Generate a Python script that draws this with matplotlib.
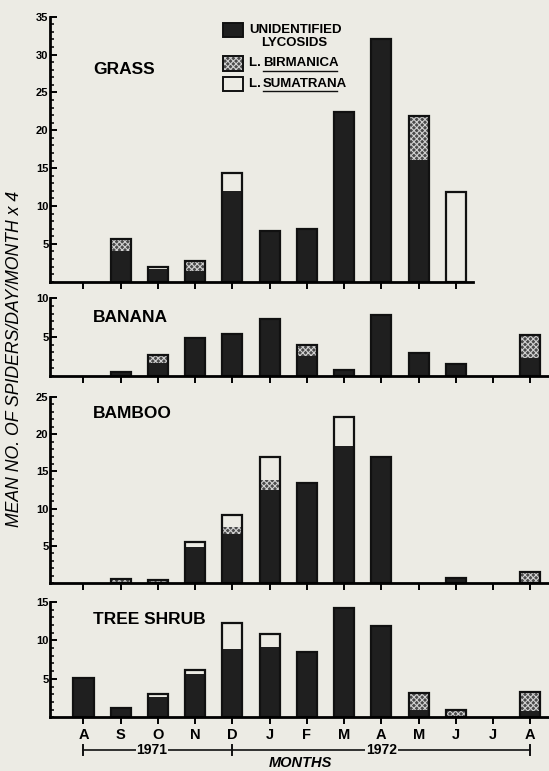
# Lycosid spiders per habitat, monthly, Aug 1971 - Aug 1972
import numpy as np
import matplotlib.pyplot as plt
from matplotlib.ticker import MultipleLocator

plt.rcParams['font.family'] = ['Liberation Sans', 'DejaVu Sans']
plt.rcParams['hatch.linewidth'] = 0.8

BG = '#ecebe4'
DARK = '#1f1f1f'
HATCH_FC = '#4a4a4a'

months = ["A", "S", "O", "N", "D", "J", "F", "M", "A", "M", "J", "J", "A"]

# values (mean no. of spiders/day/month x 4)
grass_unid = [0, 4.0, 1.7, 1.4, 12.0, 6.7, 7.0, 22.4, 32.0, 16.1, 0, 0, 0]
grass_birm = [0, 1.6, 0, 1.4, 0, 0, 0, 0, 0, 5.8, 0, 0, 0]
grass_suma = [0, 0, 0.3, 0, 2.4, 0, 0, 0, 0, 0, 11.9, 0, 0]

banana_unid = [0, 0.5, 1.6, 4.9, 5.4, 7.3, 2.5, 0.75, 7.75, 2.9, 1.55, 0, 2.25]
banana_birm = [0, 0, 1.1, 0, 0, 0, 1.5, 0, 0, 0, 0, 0, 3.0]
banana_suma = [0, 0, 0, 0, 0, 0, 0, 0, 0, 0, 0, 0, 0]

bamboo_unid = [0, 0, 0, 4.8, 6.6, 12.5, 13.4, 18.4, 16.9, 0, 0.75, 0, 0]
bamboo_birm = [0, 0.6, 0.4, 0, 1.0, 1.3, 0, 0, 0, 0, 0, 0, 1.5]
bamboo_suma = [0, 0, 0, 0.7, 1.5, 3.1, 0, 3.9, 0, 0, 0, 0, 0]

tree_unid = [5.1, 1.15, 2.6, 5.6, 8.9, 9.1, 8.5, 14.2, 11.9, 0.9, 0, 0, 0.8]
tree_birm = [0, 0, 0, 0, 0, 0, 0, 0, 0, 2.2, 0.9, 0, 2.5]
tree_suma = [0, 0, 0.4, 0.5, 3.4, 1.7, 0, 0, 0, 0, 0, 0, 0]

panels = [
    ("GRASS", 35, grass_unid, grass_birm, grass_suma, [0.091, 0.6346, 0.909, 0.3437], 11),
    ("BANANA", 10, banana_unid, banana_birm, banana_suma, [0.091, 0.5127, 0.909, 0.1008], 13),
    ("BAMBOO", 25, bamboo_unid, bamboo_birm, bamboo_suma, [0.091, 0.2435, 0.909, 0.2416], 13),
    ("TREE SHRUB", 15, tree_unid, tree_birm, tree_suma, [0.091, 0.0697, 0.909, 0.1495], 13),
]

fig = plt.figure(figsize=(5.49, 7.71), dpi=100, facecolor=BG)
x = np.arange(len(months))
w = 0.54

axes = []
for name, ymax, unid, birm, suma, rect, nt in panels:
    ax = fig.add_axes(rect)
    ax.set_facecolor(BG)
    unid = np.array(unid)
    birm = np.array(birm)
    suma = np.array(suma)
    total = unid + birm + suma

    ax.bar(x, unid, w, color=DARK, linewidth=0)
    ax.bar(x, birm, w, bottom=unid, facecolor=HATCH_FC, edgecolor='#d0d0d0',
           hatch='xxxxxx', linewidth=0)
    ax.bar(x, suma, w, bottom=unid + birm, facecolor=BG, linewidth=0)
    ok = total > 0
    ax.bar(x[ok], total[ok], w, fill=False, edgecolor='#111111', linewidth=1.6)

    ax.set_xlim(-0.9, 12.5)
    ax.set_ylim(0, ymax)
    for s in ['top', 'right']:
        ax.spines[s].set_visible(False)
    ax.spines['left'].set_linewidth(2)
    ax.spines['bottom'].set_linewidth(2)
    if nt < 13:
        ax.spines['bottom'].set_bounds(-0.9, 10.45)

    ax.set_yticks(np.arange(5, ymax + 1, 5))
    ax.yaxis.set_minor_locator(MultipleLocator(1))
    ax.tick_params(axis='y', which='major', direction='in', length=5, width=1.4,
                   labelsize=8, pad=1)
    ax.tick_params(axis='y', which='minor', direction='in', length=3, width=1.1)
    for lab in ax.get_yticklabels():
        lab.set_fontweight('bold')

    ax.set_xticks(x[:nt])
    ax.tick_params(axis='x', direction='out', length=5, width=1.4)
    ax.set_xticklabels([])
    axes.append(ax)

# panel names (positioned in figure pixels from the top)
for (name, *_), ypix in zip(panels, [69, 317, 414, 620]):
    fig.text(93 / 549, 1 - ypix / 771, name, fontsize=12.5, fontweight='bold',
             va='center', ha='left')

# legend in the grass panel
legend_rows = [
    (DARK, None, 30, "UNIDENTIFIED", None),
    (HATCH_FC, 'xxxxxx', 63.5, "L. ", "BIRMANICA"),
    (BG, None, 84, "L. ", "SUMATRANA"),
]
for fc, hatch, ypix, t1, t2 in legend_rows:
    y0 = 1 - (ypix + 7) / 771
    if hatch:
        fig.patches.append(plt.Rectangle((223 / 549, y0), 20 / 549, 14 / 771,
                                         transform=fig.transFigure, facecolor=fc,
                                         edgecolor='#d0d0d0', linewidth=0,
                                         hatch=hatch))
        fc = 'none'
    fig.patches.append(plt.Rectangle((223 / 549, y0), 20 / 549, 14 / 771,
                                     transform=fig.transFigure, facecolor=fc,
                                     edgecolor='#111111', linewidth=1.4))
    fig.text(249 / 549, 1 - ypix / 771, t1, fontsize=9.5, fontweight='bold',
             va='center', ha='left')
    if t2:
        fig.text(263 / 549, 1 - ypix / 771, t2, fontsize=9.5, fontweight='bold',
                 va='center', ha='left')
        fig.add_artist(plt.Line2D([263 / 549, (263 + 8.2 * len(t2)) / 549],
                                  [1 - (ypix + 7) / 771] * 2, color='#111111',
                                  linewidth=1, transform=fig.transFigure))
fig.text(294 / 549, 1 - 43 / 771, "LYCOSIDS", fontsize=9.5, fontweight='bold',
         va='center', ha='center')

# month labels and year line under the bottom panel
bot = axes[-1]
tr = bot.get_xaxis_transform()
for xi, m in zip(x, months):
    bot.text(xi, -0.155, m, transform=tr, ha='center', va='center',
             fontsize=10.5, fontweight='bold')
yl = -0.285
bot.plot([0, 12], [yl, yl], transform=tr, color='#111111', linewidth=1.2,
         clip_on=False)
for xc in [0, 4, 12]:
    bot.plot([xc, xc], [yl - 0.045, yl + 0.045], transform=tr, color='#111111',
             linewidth=1.4, clip_on=False)
for xc, yr in [(1.84, "1971"), (8.0, "1972")]:
    bot.text(xc, yl, yr, transform=tr, ha='center', va='center', fontsize=10,
             fontweight='bold',
             bbox=dict(facecolor=BG, edgecolor='none', pad=0.5))
fig.text(300 / 549, 1 - 763 / 771, "MONTHS", fontsize=10.5, fontweight='bold',
         style='italic', ha='center', va='center')

fig.text(15 / 549, 1 - 359 / 771, "MEAN NO. OF SPIDERS/DAY/MONTH x 4",
         rotation=90, fontsize=12.7, style='italic', ha='center', va='center')

fig.savefig("out.png", dpi=100, facecolor=BG)
